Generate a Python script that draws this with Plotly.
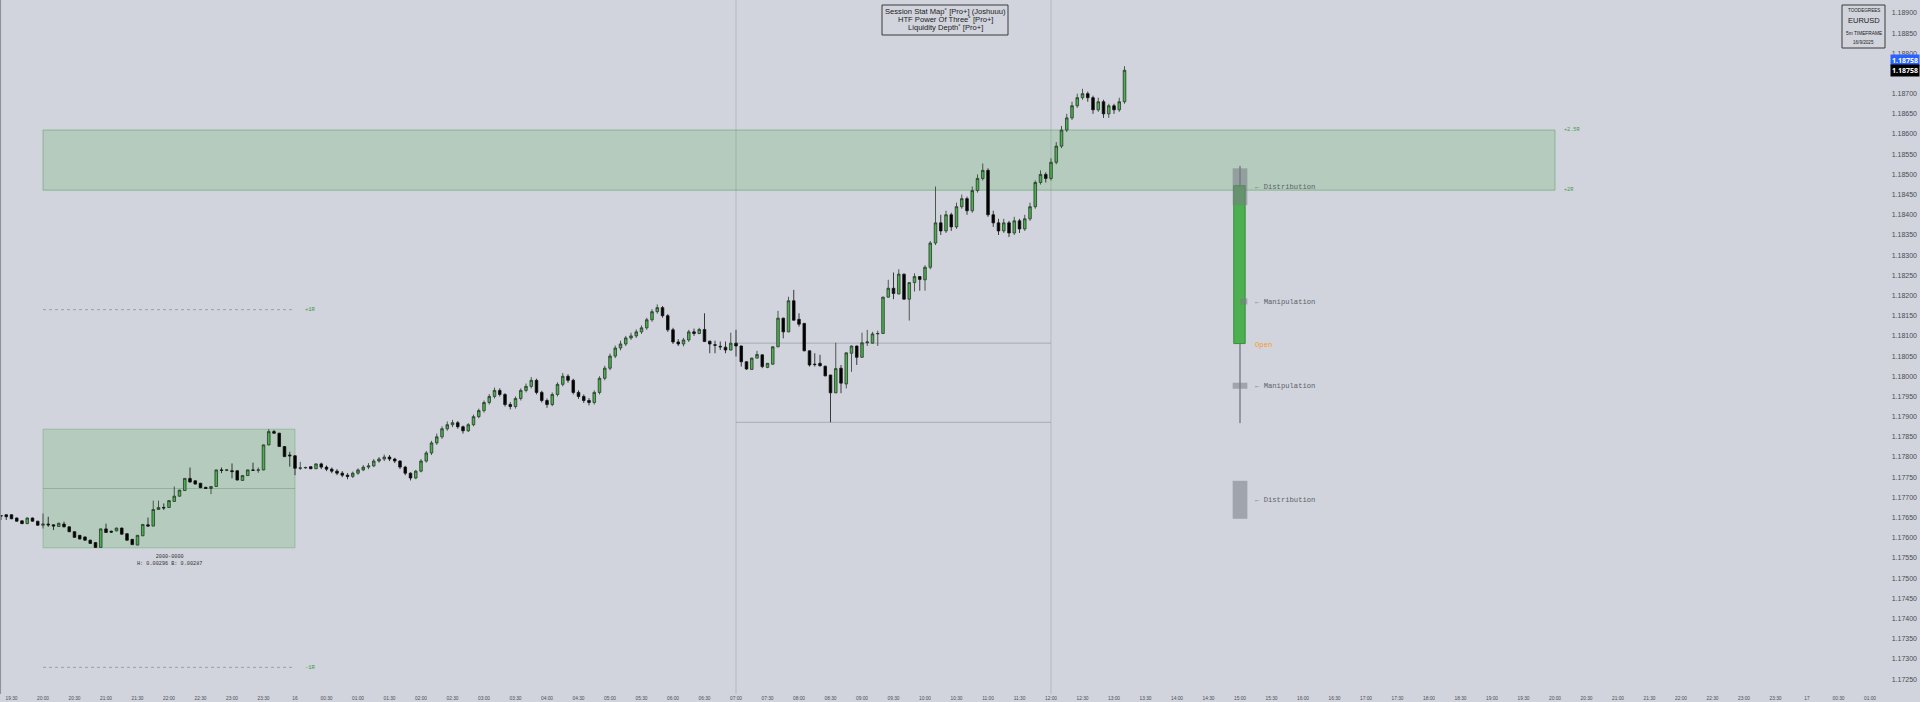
import plotly.graph_objects as go
import pandas as pd

# ---------------- data (O, H, L, C) per 5m candle ----------------
SEG_EVENING = [  # 19:20 -> 00:20
    (1.17655, 1.17655, 1.17644, 1.17654), (1.17657, 1.17658, 1.17644, 1.17652),
    (1.17657, 1.17658, 1.17646, 1.17647), (1.17649, 1.17650, 1.17640, 1.17641),
    (1.17642, 1.17642, 1.17634, 1.17635), (1.17635, 1.17650, 1.17634, 1.17649),
    (1.17649, 1.17650, 1.17640, 1.17641), (1.17641, 1.17642, 1.17630, 1.17631),
    (1.17631, 1.17660, 1.17623, 1.17634), (1.17634, 1.17652, 1.17627, 1.17632),
    (1.17632, 1.17633, 1.17619, 1.17629), (1.17628, 1.17637, 1.17627, 1.17636),
    (1.17634, 1.17640, 1.17626, 1.17627), (1.17627, 1.17628, 1.17614, 1.17615),
    (1.17615, 1.17616, 1.17600, 1.17601), (1.17606, 1.17607, 1.17596, 1.17597),
    (1.17602, 1.17603, 1.17593, 1.17594), (1.17594, 1.17595, 1.17585, 1.17586),
    (1.17588, 1.17589, 1.17575, 1.17576), (1.17576, 1.17623, 1.17575, 1.17622),
    (1.17622, 1.17635, 1.17612, 1.17613), (1.17616, 1.17618, 1.17612, 1.17614),
    (1.17617, 1.17625, 1.17616, 1.17624), (1.17624, 1.17625, 1.17608, 1.17609),
    (1.17610, 1.17611, 1.17593, 1.17594), (1.17596, 1.17597, 1.17582, 1.17583),
    (1.17582, 1.17607, 1.17581, 1.17606), (1.17605, 1.17634, 1.17604, 1.17633),
    (1.17632, 1.17650, 1.17627, 1.17629), (1.17629, 1.17692, 1.17628, 1.17670),
    (1.17670, 1.17692, 1.17669, 1.17675), (1.17675, 1.17685, 1.17669, 1.17674),
    (1.17675, 1.17693, 1.17674, 1.17692), (1.17690, 1.17727, 1.17689, 1.17703),
    (1.17703, 1.17719, 1.17702, 1.17718), (1.17717, 1.17748, 1.17716, 1.17747),
    (1.17747, 1.17774, 1.17737, 1.17738), (1.17741, 1.17742, 1.17732, 1.17733),
    (1.17735, 1.17736, 1.17723, 1.17724), (1.17725, 1.17726, 1.17721, 1.17722),
    (1.17722, 1.17728, 1.17708, 1.17727), (1.17727, 1.17769, 1.17726, 1.17768),
    (1.17768, 1.17774, 1.17760, 1.17767), (1.17767, 1.17770, 1.17765, 1.17768),
    (1.17766, 1.17784, 1.17747, 1.17764), (1.17766, 1.17767, 1.17742, 1.17743),
    (1.17742, 1.17755, 1.17741, 1.17754), (1.17754, 1.17769, 1.17753, 1.17768),
    (1.17768, 1.17786, 1.17766, 1.17767), (1.17767, 1.17774, 1.17761, 1.17768),
    (1.17768, 1.17831, 1.17767, 1.17830), (1.17830, 1.17869, 1.17829, 1.17863),
    (1.17863, 1.17867, 1.17858, 1.17859), (1.17859, 1.17860, 1.17825, 1.17826),
    (1.17826, 1.17827, 1.17800, 1.17801), (1.17805, 1.17813, 1.17776, 1.17803),
    (1.17803, 1.17804, 1.17755, 1.17772), (1.17772, 1.17788, 1.17768, 1.17773),
    (1.17773, 1.17776, 1.17771, 1.17774), (1.17776, 1.17777, 1.17770, 1.17771),
    (1.17771, 1.17784, 1.17770, 1.17783),
]
SEG_ASIA = [  # 00:25 -> 06:20
    (1.17783, 1.17786, 1.17770, 1.17775), (1.17775, 1.17779, 1.17765, 1.17770),
    (1.17770, 1.17774, 1.17760, 1.17765), (1.17765, 1.17770, 1.17755, 1.17760),
    (1.17760, 1.17765, 1.17750, 1.17755), (1.17755, 1.17760, 1.17745, 1.17752),
    (1.17752, 1.17764, 1.17748, 1.17760), (1.17760, 1.17772, 1.17756, 1.17768),
    (1.17768, 1.17780, 1.17765, 1.17775), (1.17775, 1.17785, 1.17770, 1.17778),
    (1.17778, 1.17795, 1.17775, 1.17790), (1.17790, 1.17800, 1.17786, 1.17795),
    (1.17795, 1.17806, 1.17790, 1.17800), (1.17800, 1.17805, 1.17790, 1.17795),
    (1.17795, 1.17798, 1.17785, 1.17790), (1.17790, 1.17792, 1.17770, 1.17775),
    (1.17775, 1.17778, 1.17755, 1.17760), (1.17760, 1.17762, 1.17742, 1.17748),
    (1.17748, 1.17768, 1.17745, 1.17765), (1.17765, 1.17795, 1.17762, 1.17790),
    (1.17790, 1.17815, 1.17786, 1.17810), (1.17810, 1.17840, 1.17805, 1.17835),
    (1.17835, 1.17858, 1.17830, 1.17850), (1.17850, 1.17876, 1.17845, 1.17870),
    (1.17870, 1.17888, 1.17865, 1.17880), (1.17880, 1.17892, 1.17874, 1.17885),
    (1.17885, 1.17889, 1.17870, 1.17875), (1.17875, 1.17878, 1.17858, 1.17865),
    (1.17865, 1.17884, 1.17862, 1.17880), (1.17880, 1.17905, 1.17876, 1.17900),
    (1.17900, 1.17920, 1.17896, 1.17915), (1.17915, 1.17940, 1.17910, 1.17935),
    (1.17935, 1.17956, 1.17930, 1.17950), (1.17950, 1.17972, 1.17945, 1.17965),
    (1.17965, 1.17970, 1.17950, 1.17955), (1.17955, 1.17958, 1.17925, 1.17930),
    (1.17930, 1.17936, 1.17918, 1.17925), (1.17925, 1.17950, 1.17920, 1.17945),
    (1.17945, 1.17970, 1.17940, 1.17965), (1.17965, 1.17982, 1.17960, 1.17975),
    (1.17975, 1.17998, 1.17970, 1.17990), (1.17990, 1.17994, 1.17955, 1.17960),
    (1.17960, 1.17964, 1.17935, 1.17940), (1.17940, 1.17945, 1.17922, 1.17930),
    (1.17930, 1.17960, 1.17926, 1.17955), (1.17955, 1.17985, 1.17950, 1.17980),
    (1.17980, 1.18008, 1.17975, 1.18000), (1.18000, 1.18005, 1.17984, 1.17990),
    (1.17990, 1.17994, 1.17955, 1.17960), (1.17960, 1.17965, 1.17944, 1.17950),
    (1.17950, 1.17955, 1.17934, 1.17940), (1.17940, 1.17946, 1.17928, 1.17935),
    (1.17935, 1.17965, 1.17930, 1.17960), (1.17960, 1.18000, 1.17955, 1.17995),
    (1.17995, 1.18026, 1.17990, 1.18020), (1.18020, 1.18056, 1.18015, 1.18050),
    (1.18050, 1.18076, 1.18045, 1.18070), (1.18070, 1.18088, 1.18064, 1.18080),
    (1.18080, 1.18100, 1.18075, 1.18095), (1.18095, 1.18108, 1.18090, 1.18100),
    (1.18100, 1.18116, 1.18095, 1.18110), (1.18110, 1.18126, 1.18105, 1.18120),
    (1.18120, 1.18145, 1.18115, 1.18140), (1.18140, 1.18166, 1.18135, 1.18160),
    (1.18160, 1.18178, 1.18155, 1.18170), (1.18170, 1.18174, 1.18145, 1.18150),
    (1.18150, 1.18154, 1.18110, 1.18115), (1.18115, 1.18120, 1.18080, 1.18085),
    (1.18085, 1.18092, 1.18075, 1.18080), (1.18080, 1.18095, 1.18074, 1.18090),
    (1.18090, 1.18115, 1.18085, 1.18110), (1.18110, 1.18118, 1.18100, 1.18106),
]
SEG_LONDON = [  # 06:25 -> 10:00
    (1.18106, 1.18120, 1.18104, 1.18116), (1.18116, 1.18156, 1.18085, 1.18086),
    (1.18087, 1.18088, 1.18057, 1.18080), (1.18078, 1.18088, 1.18057, 1.18077),
    (1.18074, 1.18086, 1.18065, 1.18073), (1.18072, 1.18086, 1.18057, 1.18065),
    (1.18065, 1.18108, 1.18064, 1.18082), (1.18082, 1.18115, 1.18049, 1.18075),
    (1.18075, 1.18076, 1.18024, 1.18036), (1.18036, 1.18037, 1.18016, 1.18018),
    (1.18017, 1.18046, 1.18016, 1.18045), (1.18045, 1.18063, 1.18044, 1.18054),
    (1.18053, 1.18054, 1.18020, 1.18024), (1.18022, 1.18033, 1.18020, 1.18032),
    (1.18030, 1.18074, 1.18029, 1.18073), (1.18073, 1.18162, 1.18072, 1.18144),
    (1.18144, 1.18145, 1.18094, 1.18110), (1.18110, 1.18197, 1.18109, 1.18187),
    (1.18187, 1.18214, 1.18138, 1.18139), (1.18141, 1.18156, 1.18123, 1.18129),
    (1.18131, 1.18132, 1.18062, 1.18063), (1.18063, 1.18064, 1.18024, 1.18028),
    (1.18030, 1.18057, 1.18024, 1.18029), (1.18032, 1.18053, 1.18024, 1.18026),
    (1.18025, 1.18026, 1.18000, 1.18001), (1.18003, 1.18004, 1.17886, 1.17959),
    (1.17959, 1.18083, 1.17958, 1.18019), (1.18020, 1.18028, 1.17958, 1.17983),
    (1.17981, 1.18059, 1.17970, 1.18058), (1.18057, 1.18076, 1.18011, 1.18075),
    (1.18075, 1.18076, 1.18028, 1.18047), (1.18047, 1.18108, 1.18046, 1.18083),
    (1.18083, 1.18115, 1.18075, 1.18085), (1.18082, 1.18110, 1.18081, 1.18105),
    (1.18105, 1.18113, 1.18075, 1.18106), (1.18106, 1.18197, 1.18105, 1.18196),
    (1.18196, 1.18239, 1.18195, 1.18218), (1.18218, 1.18257, 1.18191, 1.18205),
    (1.18204, 1.18265, 1.18203, 1.18253), (1.18253, 1.18254, 1.18190, 1.18191),
    (1.18191, 1.18233, 1.18138, 1.18232), (1.18232, 1.18255, 1.18210, 1.18247),
    (1.18247, 1.18248, 1.18212, 1.18240), (1.18239, 1.18275, 1.18212, 1.18270),
]
SEG_MIDDAY = [  # 10:05 -> 13:10
    (1.18270, 1.18335, 1.18265, 1.18330), (1.18330, 1.18470, 1.18325, 1.18380),
    (1.18380, 1.18400, 1.18350, 1.18360), (1.18360, 1.18410, 1.18355, 1.18400),
    (1.18400, 1.18405, 1.18360, 1.18370), (1.18370, 1.18430, 1.18365, 1.18420),
    (1.18420, 1.18450, 1.18415, 1.18440), (1.18440, 1.18445, 1.18400, 1.18410),
    (1.18410, 1.18470, 1.18405, 1.18460), (1.18460, 1.18500, 1.18455, 1.18490),
    (1.18490, 1.18527, 1.18485, 1.18510), (1.18510, 1.18515, 1.18395, 1.18400),
    (1.18400, 1.18410, 1.18370, 1.18380), (1.18380, 1.18390, 1.18350, 1.18360),
    (1.18360, 1.18390, 1.18355, 1.18380), (1.18380, 1.18385, 1.18345, 1.18355),
    (1.18355, 1.18395, 1.18350, 1.18385), (1.18385, 1.18390, 1.18355, 1.18365),
    (1.18365, 1.18400, 1.18360, 1.18390), (1.18390, 1.18430, 1.18385, 1.18420),
    (1.18420, 1.18485, 1.18415, 1.18480), (1.18480, 1.18510, 1.18475, 1.18500),
    (1.18500, 1.18505, 1.18480, 1.18490), (1.18490, 1.18540, 1.18485, 1.18530),
    (1.18530, 1.18580, 1.18525, 1.18570), (1.18570, 1.18620, 1.18565, 1.18610),
    (1.18610, 1.18650, 1.18605, 1.18640), (1.18640, 1.18680, 1.18635, 1.18670),
    (1.18670, 1.18700, 1.18665, 1.18690), (1.18690, 1.18712, 1.18685, 1.18700),
    (1.18700, 1.18705, 1.18680, 1.18690), (1.18690, 1.18695, 1.18650, 1.18660),
    (1.18660, 1.18690, 1.18655, 1.18680), (1.18680, 1.18685, 1.18640, 1.18650),
    (1.18650, 1.18675, 1.18640, 1.18670), (1.18670, 1.18675, 1.18650, 1.18660),
    (1.18660, 1.18690, 1.18655, 1.18680), (1.18680, 1.18768, 1.18675, 1.18758),
]
FIRST_CANDLE = "2025-09-15 19:20"
LAST_PRICE = 1.18758

# session 20:00-00:00 box and its projections
SESSION_START, SESSION_END = "2025-09-15 20:00", "2025-09-16 00:00"
SESSION_HIGH, SESSION_LOW = 1.17869, 1.17575
PROJ_LEVELS = {"+1R": 1.18165, "-1R": 1.17279}
TARGET_BOX = {"x0": "2025-09-15 20:00", "x1": "2025-09-16 20:00", "low": 1.18461, "high": 1.18610}
TARGET_LABELS = [("+2.5R", 1.18610), ("+2R", 1.18461)]
SESSION_TEXT = ["2000-0000", "H: 0.00296 B: 0.00287"]

# 07:00-12:00 window
WINDOW = ("2025-09-16 07:00", "2025-09-16 12:00")
WINDOW_OPEN, WINDOW_LOW = 1.18082, 1.17886

# HTF power of three (projected candle at 15:00)
PO3_CENTER = "2025-09-16 15:00"
PO3_HALF_MIN = 7
PO3_WICK = (1.17884, 1.18521)
PO3_BODY = (1.18081, 1.18472)
PO3_BOXES = [(1.18424, 1.18515, 0.0), (1.18178, 1.18193, 0.5), (1.17969, 1.17984, 0.0), (1.17647, 1.17741, 0.0)]
PO3_LABELS = [("\u2190 Distribution", 1.18468, "#5d606b"), ("\u2190 Manipulation", 1.18185, "#5d606b"),
              ("Open", 1.18078, "#f59c1a"), ("\u2190 Manipulation", 1.17976, "#5d606b"),
              ("\u2190 Distribution", 1.17694, "#5d606b")]

INFO_LINES = ["Session Stat Map\u02da [Pro+] (Joshuuu)", "HTF Power Of Three\u02da [Pro+]", "Liquidity Depth\u02da [Pro+]"]
WATERMARK_LINES = [("TOODEGREES", 4.6), ("EURUSD", 7.5), ("5m TIMEFRAME", 4.8), ("16/9/2025", 4.6)]

X_RANGE = ["2025-09-15 19:19:03", "2025-09-17 01:47:36"]
Y_RANGE = [1.17213, 1.18932]

# ---------------- build ----------------
W, H, MB = 1920, 702, 8
PH = H - MB
candles = SEG_EVENING + SEG_ASIA + SEG_LONDON + SEG_MIDDAY
times = pd.date_range(FIRST_CANDLE, periods=len(candles), freq="5min")
tick_times = pd.date_range("2025-09-15 19:30", "2025-09-17 01:00", freq="30min")
tick_text = [str(t.day) if (t.hour == 0 and t.minute == 0) else t.strftime("%H:%M") for t in tick_times]

BG = "#d1d4dc"
fig = go.Figure()
fig.add_trace(go.Candlestick(
    x=times,
    open=[c[0] for c in candles], high=[c[1] for c in candles],
    low=[c[2] for c in candles], close=[c[3] for c in candles],
    increasing=dict(fillcolor="#4caf50", line=dict(color="#2a3a2a", width=0.8)),
    decreasing=dict(fillcolor="#000000", line=dict(color="#111111", width=0.8)),
    whiskerwidth=0, showlegend=False, hoverinfo="skip",
))

shapes = []
shapes.append(dict(type="line", xref="paper", yref="paper", x0=0.0003, x1=0.0003, y0=0, y1=1,
                   line=dict(color="#8a8d96", width=1)))
# target box (upper)
shapes.append(dict(type="rect", xref="x", yref="y", x0=TARGET_BOX["x0"], x1=TARGET_BOX["x1"],
                   y0=TARGET_BOX["low"], y1=TARGET_BOX["high"], fillcolor="rgba(76,175,80,0.22)",
                   line=dict(color="rgba(76,150,80,0.45)", width=1), layer="below"))
# session box
shapes.append(dict(type="rect", xref="x", yref="y", x0=SESSION_START, x1=SESSION_END,
                   y0=SESSION_LOW, y1=SESSION_HIGH, fillcolor="rgba(76,175,80,0.22)",
                   line=dict(color="rgba(76,150,80,0.35)", width=1), layer="below"))
shapes.append(dict(type="line", xref="x", yref="y", x0=SESSION_START, x1=SESSION_END,
                   y0=(SESSION_HIGH + SESSION_LOW) / 2, y1=(SESSION_HIGH + SESSION_LOW) / 2,
                   line=dict(color="rgba(80,130,85,0.35)", width=1), layer="below"))
for lbl, lvl in PROJ_LEVELS.items():
    shapes.append(dict(type="line", xref="x", yref="y", x0=SESSION_START, x1=SESSION_END, y0=lvl, y1=lvl,
                       line=dict(color="rgba(120,123,134,0.6)", width=1, dash="dot"), layer="below"))
# window verticals and levels
for wx in WINDOW:
    shapes.append(dict(type="line", xref="x", yref="paper", x0=wx, x1=wx, y0=0, y1=1,
                       line=dict(color="rgba(120,123,134,0.3)", width=1), layer="below"))
for lvl in (WINDOW_OPEN, WINDOW_LOW):
    shapes.append(dict(type="line", xref="x", yref="y", x0=WINDOW[0], x1=WINDOW[1], y0=lvl, y1=lvl,
                       line=dict(color="rgba(120,123,134,0.45)", width=1), layer="below"))
# PO3
pc = pd.Timestamp(PO3_CENTER)
half = pd.Timedelta(minutes=PO3_HALF_MIN)
shapes.append(dict(type="line", xref="x", yref="y", x0=pc, x1=pc, y0=PO3_WICK[0], y1=PO3_WICK[1],
                   line=dict(color="#555860", width=1)))
shapes.append(dict(type="rect", xref="x", yref="y", x0=pc - half * 0.85, x1=pc + half * 0.7,
                   y0=PO3_BODY[0], y1=PO3_BODY[1], fillcolor="#4caf50", line=dict(color="#3d8b40", width=1)))
for lo, hi, frac in PO3_BOXES:
    shapes.append(dict(type="rect", xref="x", yref="y", x0=pc - half + 2 * half * frac, x1=pc + half,
                       y0=lo, y1=hi, fillcolor="rgba(120,123,134,0.55)", line=dict(width=0)))
# info box frames (pixel positions converted to paper fractions)
shapes.append(dict(type="rect", xref="paper", yref="paper", x0=882 / W, x1=1008 / W, y0=1 - 35 / PH, y1=1 - 5 / PH,
                   line=dict(color="#3a3a3a", width=1), fillcolor=BG))
shapes.append(dict(type="rect", xref="paper", yref="paper", x0=1842 / W, x1=1885 / W, y0=1 - 48 / PH, y1=1 - 5 / PH,
                   line=dict(color="#3a3a3a", width=1), fillcolor=BG))

annotations = []
mono = "Liberation Mono"
annotations.append(dict(x=pd.Timestamp(SESSION_START) + (pd.Timestamp(SESSION_END) - pd.Timestamp(SESSION_START)) / 2,
                        y=SESSION_LOW, yshift=-13, text="<br>".join(SESSION_TEXT), showarrow=False,
                        font=dict(family=mono, size=5.2, color="#333"), align="center"))
for lbl, lvl in PROJ_LEVELS.items():
    annotations.append(dict(x=SESSION_END, y=lvl, text=lbl, showarrow=False, xanchor="left", xshift=8,
                            font=dict(family=mono, size=5.5, color="#3f9a44")))
for lbl, lvl in TARGET_LABELS:
    annotations.append(dict(x=TARGET_BOX["x1"], y=lvl, text=lbl, showarrow=False, xanchor="left", xshift=7,
                            font=dict(family=mono, size=5.2, color="#3f9a44")))
for lbl, lvl, col in PO3_LABELS:
    annotations.append(dict(x=pc + half, y=lvl, text=lbl, showarrow=False, xanchor="left", xshift=6,
                            font=dict(family=mono, size=7.2, color=col)))
# price tags
annotations.append(dict(xref="paper", x=1, y=LAST_PRICE, yshift=10, xanchor="right", text="<b>%.5f</b>" % LAST_PRICE,
                        showarrow=False, bgcolor="#2962ff", font=dict(size=7, color="white"), borderpad=1))
annotations.append(dict(xref="paper", x=1, y=LAST_PRICE, xanchor="right", text="<b>%.5f</b>" % LAST_PRICE,
                        showarrow=False, bgcolor="#000000", font=dict(size=7, color="white"), borderpad=1))
# info box lines
for i, line in enumerate(INFO_LINES):
    annotations.append(dict(xref="paper", yref="paper", x=945 / W, y=1 - (12 + 7.8 * i) / PH, xanchor="center",
                            yanchor="middle", text=line, showarrow=False,
                            font=dict(family="Liberation Sans", size=7.6, color="#222")))
wm_y = [10.5, 20.5, 33, 42.5]
for (line, size), yy in zip(WATERMARK_LINES, wm_y):
    annotations.append(dict(xref="paper", yref="paper", x=1863.5 / W, y=1 - yy / PH, xanchor="center",
                            yanchor="middle", text=line, showarrow=False,
                            font=dict(family="Liberation Sans", size=size, color="#222")))

fig.update_layout(
    width=W, height=H, margin=dict(l=0, r=0, t=0, b=MB),
    paper_bgcolor=BG, plot_bgcolor=BG, shapes=shapes, annotations=annotations,
    xaxis=dict(type="date", range=X_RANGE, rangeslider=dict(visible=False), showgrid=False, zeroline=False,
               tickvals=tick_times, ticktext=tick_text, tickfont=dict(family="Liberation Sans", size=4.8, color="#4a4d57"),
               ticks="", showline=False),
    yaxis=dict(side="right", range=Y_RANGE, tick0=1.1725, dtick=0.0005, tickformat=".5f",
               ticklabelposition="inside", showgrid=False, zeroline=False, ticks="",
               tickfont=dict(family="Liberation Sans", size=7, color="#4a4d57")),
)
fig.write_html("out.html", config={"displayModeBar": False},
               post_script="document.body.style.margin='0';document.body.style.background='%s';" % BG)
